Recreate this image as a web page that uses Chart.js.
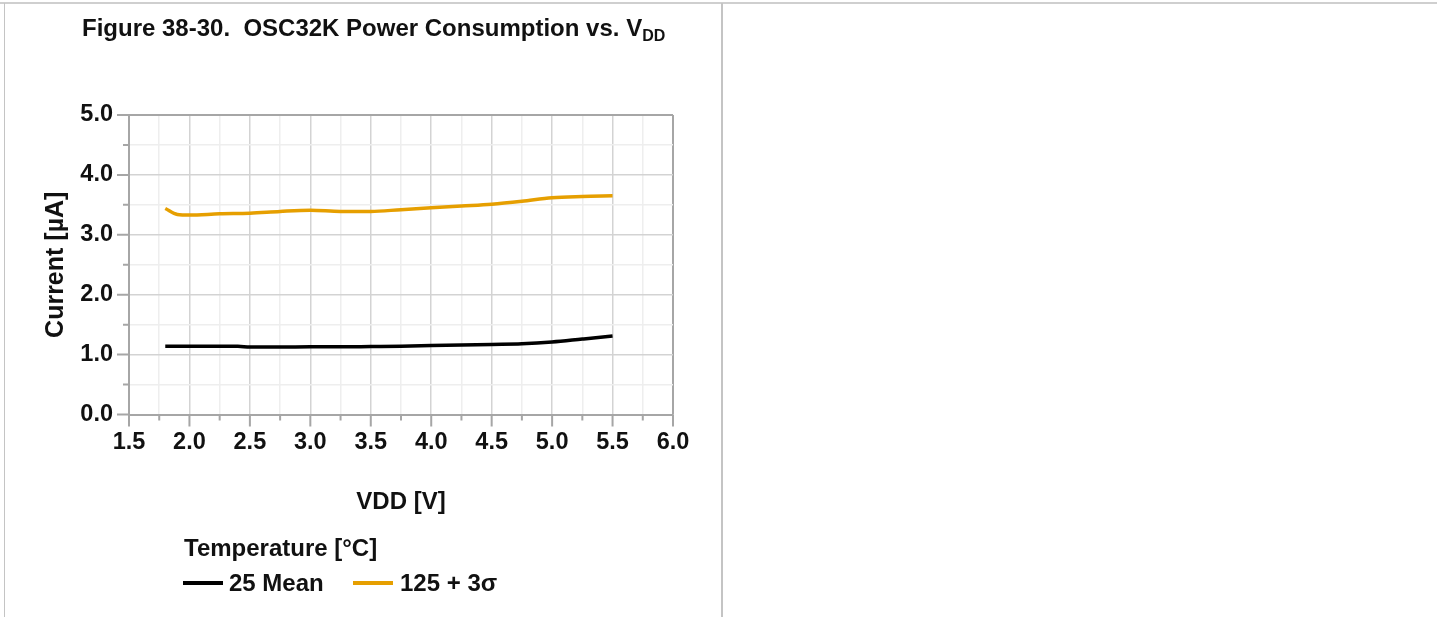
<!DOCTYPE html>
<html>
<head>
<meta charset="utf-8">
<script src="https://cdn.jsdelivr.net/npm/chart.js@4/dist/chart.umd.min.js"></script>
<style>
	body { margin: 0; background: #fff; width: 1438px; height: 617px; overflow: hidden; font-family: "Liberation Sans", Arial, sans-serif; }
	#wrap { position: absolute; left: 0; top: 0; width: 722px; height: 617px; }
	#frameTop { position: absolute; left: 0; top: 2px; width: 1437px; height: 2px; background: #cfcfcf; }
	#frameLeft { position: absolute; left: 4px; top: 3px; width: 1px; height: 614px; background: #c4c4c4; }
	#frameMid { position: absolute; left: 721px; top: 3px; width: 2px; height: 614px; background: #c4c4c4; }
	#title { position: absolute; left: 82px; top: 14px; font-weight: bold; font-size: 24px; color: #111; white-space: pre; }
	#title sub { font-size: 16px; vertical-align: -5px; }
	.leg { position: absolute; font-weight: bold; font-size: 24px; color: #111; white-space: pre; }
	.swatch { position: absolute; height: 4px; width: 40px; }
</style>
</head>
<body>
<div id="wrap"><canvas id="osc32k"></canvas></div>
<div id="frameTop"></div>
<div id="frameLeft"></div>
<div id="frameMid"></div>
<div id="title">Figure 38-30.  OSC32K Power Consumption vs. V<sub>DD</sub></div>
<div class="leg" style="left:184px; top:534px;">Temperature [°C]</div>
<div class="swatch" style="left:183px; top:581px; background:#000;"></div>
<div class="leg" style="left:229px; top:569px;">25 Mean</div>
<div class="swatch" style="left:353px; top:581px; background:#E69F00;"></div>
<div class="leg" style="left:400px; top:569px;">125 + 3σ</div>
<script>
// values
const vddMean = [1.8, 1.9, 2.0, 2.25, 2.4, 2.5, 2.75, 3.0, 3.25, 3.5, 3.75, 4.0, 4.25, 4.5, 4.75, 5.0, 5.25, 5.5];
const mean25 = [1.14, 1.14, 1.14, 1.14, 1.14, 1.125, 1.125, 1.13, 1.13, 1.135, 1.14, 1.15, 1.16, 1.17, 1.18, 1.21, 1.26, 1.31];
const vddHot = [1.8, 1.9, 2.0, 2.25, 2.5, 2.75, 3.0, 3.25, 3.5, 3.75, 4.0, 4.25, 4.5, 4.75, 5.0, 5.25, 5.5];
const hot125 = [3.44, 3.34, 3.33, 3.35, 3.36, 3.39, 3.41, 3.39, 3.39, 3.42, 3.45, 3.48, 3.51, 3.56, 3.62, 3.64, 3.65];
const seriesNames = ["25 Mean", "125 + 3σ"];
const seriesColors = ["#000000", "#E69F00"];
const xMin = 1.5, xMax = 6.0, xStep = 0.25;
const yMin = 0, yMax = 5.0, yStep = 0.5;

const axisColor = '#a6a6a6';
const fontFam = '"Liberation Sans", Arial, sans-serif';
Chart.defaults.font.family = fontFam;
Chart.defaults.color = '#111';

function isMajor(v, every){
	let r = v / every;
	return Math.abs(r - Math.round(r)) < 1e-6;
}

// small/long tick marks, placed through the scales
const tickMarks = {
	id: 'tickMarks',
	afterDraw(chart){
		const ctx = chart.ctx;
		const xs = chart.scales.x, ys = chart.scales.y;
		ctx.save();
		ctx.strokeStyle = axisColor;
		ctx.lineWidth = 2;
		ctx.beginPath();
		xs.ticks.forEach(t => {
			const px = xs.getPixelForValue(t.value);
			const len = isMajor(t.value, 0.5) ? 12 : 6;
			ctx.moveTo(px, ys.bottom);
			ctx.lineTo(px, ys.bottom + len);
		});
		ys.ticks.forEach(t => {
			const py = ys.getPixelForValue(t.value);
			const len = isMajor(t.value, 1) ? 12 : 6;
			ctx.moveTo(xs.left, py);
			ctx.lineTo(xs.left - len, py);
		});
		ctx.stroke();
		ctx.restore();
	}
};

const ctx = document.getElementById("osc32k").getContext("2d");
const data = {
	datasets: [
		{
			label: seriesNames[0],
			data: vddMean.map((v, i) => ({x: v, y: mean25[i]})),
			borderColor: seriesColors[0],
			backgroundColor: seriesColors[0],
		},
		{
			label: seriesNames[1],
			data: vddHot.map((v, i) => ({x: v, y: hot125[i]})),
			borderColor: seriesColors[1],
			backgroundColor: seriesColors[1],
		},
	],
};
data.datasets.forEach(d => {
	d.borderWidth = 3.5;
	d.pointRadius = 0;
	d.cubicInterpolationMode = 'monotone';
	d.fill = false;
});

const config = {
	type: 'line',
	data: data,
	options: {
		responsive: false,
		animation: false,
		layout: { padding: { top: 115, left: 0, right: 49, bottom: 97.5 } },
		plugins: {
			legend: { display: false },
			tooltip: { enabled: false },
		},
		scales: {
			x: {
				type: 'linear',
				min: xMin,
				max: xMax,
				afterFit: (scale) => { scale.height = 105; },
				ticks: {
					stepSize: xStep,
					autoSkip: false,
					maxRotation: 0,
					padding: 14,
					font: { size: 23.5, weight: 'bold' },
					callback: (value) => isMajor(value, 0.5) ? value.toFixed(1) : '',
				},
				grid: {
					drawTicks: false,
					color: (c) => c.tick && Math.abs(c.tick.value - xMax) < 1e-6 ? axisColor : (isMajor(c.tick.value, 0.5) ? '#d3d3d3' : '#eeeeee'),
					lineWidth: (c) => c.tick && Math.abs(c.tick.value - xMax) < 1e-6 ? 2 : 1.5,
				},
				border: { color: axisColor, width: 2 },
				title: {
					display: true,
					text: 'VDD [V]',
					font: { size: 24, weight: 'bold' },
					padding: { top: 0, bottom: 3 },
				},
			},
			y: {
				min: yMin,
				max: yMax,
				afterFit: (scale) => { scale.width = 129; },
				ticks: {
					stepSize: yStep,
					autoSkip: false,
					padding: 16,
					font: { size: 23.5, weight: 'bold' },
					callback: (value) => isMajor(value, 1) ? value.toFixed(1) : '',
				},
				grid: {
					drawTicks: false,
					color: (c) => c.tick && Math.abs(c.tick.value - yMax) < 1e-6 ? axisColor : (isMajor(c.tick.value, 1) ? '#d3d3d3' : '#eeeeee'),
					lineWidth: (c) => c.tick && Math.abs(c.tick.value - yMax) < 1e-6 ? 2 : 1.5,
				},
				border: { color: axisColor, width: 2 },
				title: {
					display: true,
					text: 'Current [µA]',
					font: { size: 25, weight: 'bold' },
					padding: { top: 41, bottom: 0 },
				},
			},
		},
	},
	plugins: [tickMarks],
};
const canvas = document.getElementById("osc32k");
canvas.width = 722;
canvas.height = 617;
new Chart(ctx, config);
</script>
</body>
</html>
